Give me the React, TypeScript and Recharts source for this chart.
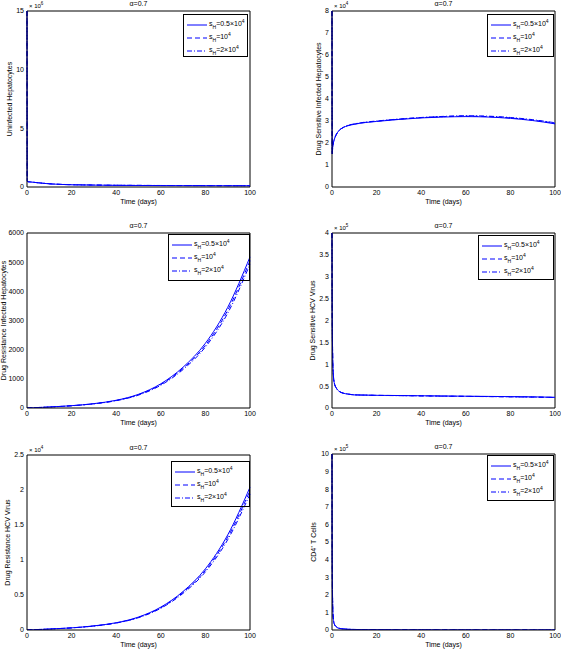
import React from 'react';
import { LineChart, Line, XAxis, YAxis, Legend, Label, ReferenceLine } from 'recharts';

// time grid (days)
const days = [0, 0.1, 0.3, 0.5, 1, 2, 3, 5, 7, 10, 15, 20, 30, 40, 50, 60, 70, 80, 90, 100];
const xTicks = [0, 20, 40, 60, 80, 100];

// uninfected hepatocytes (x10^6)
const uninfA = [15, 0.5, 0.46, 0.45, 0.44, 0.42, 0.4, 0.36, 0.32, 0.27, 0.22, 0.19, 0.16, 0.14, 0.13, 0.12, 0.115, 0.11, 0.105, 0.1];
const uninfB = [15, 0.5, 0.46, 0.45, 0.44, 0.42, 0.4, 0.36, 0.32, 0.27, 0.22, 0.19, 0.165, 0.145, 0.135, 0.125, 0.12, 0.115, 0.11, 0.105];
const uninfC = [15, 0.5, 0.46, 0.45, 0.44, 0.42, 0.4, 0.36, 0.33, 0.28, 0.23, 0.2, 0.17, 0.15, 0.14, 0.13, 0.125, 0.12, 0.115, 0.11];

// drug sensitive infected hepatocytes (x10^4)
const sensInfA = [8, 1.5, 1.8, 1.95, 2.15, 2.4, 2.55, 2.7, 2.78, 2.85, 2.93, 2.98, 3.07, 3.14, 3.18, 3.2, 3.18, 3.12, 3.02, 2.87];
const sensInfB = [8, 1.5, 1.8, 1.95, 2.15, 2.4, 2.55, 2.7, 2.79, 2.86, 2.94, 2.99, 3.08, 3.15, 3.2, 3.22, 3.2, 3.14, 3.04, 2.9];
const sensInfC = [8, 1.5, 1.8, 1.95, 2.15, 2.4, 2.55, 2.71, 2.8, 2.87, 2.95, 3.0, 3.09, 3.16, 3.21, 3.24, 3.22, 3.16, 3.06, 2.92];

// drug resistance infected hepatocytes
const resInfA = [0, 0.5, 1.5, 2.5, 5, 8, 11, 17, 23, 35, 55, 80, 150, 265, 470, 830, 1400, 2220, 3450, 5180];
const resInfB = [0, 0.5, 1.5, 2.5, 5, 8, 11, 17, 23, 34, 54, 78, 146, 258, 455, 805, 1360, 2150, 3350, 5050];
const resInfC = [0, 0.5, 1.5, 2.5, 5, 8, 11, 16, 22, 33, 52, 76, 142, 250, 442, 780, 1320, 2090, 3250, 4930];

// drug sensitive HCV virus (x10^5)
const sensVirA = [4, 2.2, 1.2, 0.85, 0.58, 0.45, 0.39, 0.34, 0.32, 0.3, 0.295, 0.29, 0.285, 0.28, 0.275, 0.27, 0.265, 0.26, 0.255, 0.245];
const sensVirB = [4, 2.2, 1.2, 0.85, 0.58, 0.45, 0.39, 0.34, 0.32, 0.3, 0.295, 0.29, 0.284, 0.278, 0.272, 0.267, 0.262, 0.257, 0.251, 0.242];
const sensVirC = [4, 2.2, 1.2, 0.85, 0.58, 0.45, 0.39, 0.34, 0.32, 0.3, 0.294, 0.288, 0.282, 0.276, 0.27, 0.265, 0.26, 0.254, 0.248, 0.24];

// drug resistance HCV virus (x10^4)
const resVirA = [0, 0, 0.0006, 0.001, 0.002, 0.003, 0.004, 0.007, 0.009, 0.014, 0.022, 0.031, 0.059, 0.104, 0.185, 0.327, 0.551, 0.874, 1.358, 2.04];
const resVirB = [0, 0, 0.0006, 0.001, 0.002, 0.003, 0.004, 0.007, 0.009, 0.014, 0.021, 0.03, 0.058, 0.101, 0.18, 0.318, 0.537, 0.852, 1.325, 1.99];
const resVirC = [0, 0, 0.0006, 0.001, 0.002, 0.003, 0.004, 0.007, 0.009, 0.013, 0.021, 0.03, 0.056, 0.099, 0.176, 0.31, 0.524, 0.83, 1.29, 1.94];

// CD4+ T cells (x10^5)
const cd4A = [10, 4, 1.5, 0.8, 0.35, 0.17, 0.1, 0.06, 0.04, 0.03, 0.02, 0.015, 0.01, 0.008, 0.007, 0.006, 0.005, 0.005, 0.004, 0.004];
const cd4B = [10, 4, 1.5, 0.8, 0.35, 0.17, 0.1, 0.06, 0.04, 0.03, 0.02, 0.015, 0.01, 0.008, 0.007, 0.006, 0.005, 0.005, 0.004, 0.004];
const cd4C = [10, 4, 1.5, 0.8, 0.36, 0.18, 0.11, 0.065, 0.045, 0.032, 0.022, 0.016, 0.011, 0.009, 0.007, 0.006, 0.005, 0.005, 0.004, 0.004];

const legendCoef = ['0.5×10', '10', '2×10'];
const legendExp = '4';
const dashes = [undefined, '5 3', '5 2 1 2'];
const blue = '#0000ff';

const panels = [
  { id: 'p1', left: 0, top: 0, width: 280, plotTop: 11, plotBottom: 187, plotLeft: 27, plotRight: 250,
    yMax: 15, yTicks: [0, 5, 10, 15], yLabel: 'Uninfected Hepatocytes', yLabelX: 10, exp: '6',
    series: [uninfA, uninfB, uninfC], legend: { x: 183, y: 14, w: 65, h: 43 } },
  { id: 'p2', left: 280, top: 0, width: 281, plotTop: 11, plotBottom: 187, plotLeft: 332, plotRight: 555,
    yMax: 8, yTicks: [0, 1, 2, 3, 4, 5, 6, 7, 8], yLabel: 'Drug Sensitive Infected Hepatocytes', yLabelX: 319, exp: '4',
    series: [sensInfA, sensInfB, sensInfC], legend: { x: 487, y: 14, w: 67, h: 43 } },
  { id: 'p3', left: 0, top: 210, width: 280, plotTop: 233, plotBottom: 408, plotLeft: 27, plotRight: 250,
    yMax: 6000, yTicks: [0, 1000, 2000, 3000, 4000, 5000, 6000], yLabel: 'Drug Resistance Infected Hepatocytes', yLabelX: 4, exp: null,
    series: [resInfA, resInfB, resInfC], legend: { x: 168, y: 234, w: 82, h: 47 } },
  { id: 'p4', left: 280, top: 210, width: 281, plotTop: 233, plotBottom: 408, plotLeft: 332, plotRight: 555,
    yMax: 4, yTicks: [0, 0.5, 1, 1.5, 2, 2.5, 3, 3.5, 4], yLabel: 'Drug Sensitive HCV Virus', yLabelX: 313, exp: '5',
    series: [sensVirA, sensVirB, sensVirC], legend: { x: 478, y: 235, w: 76, h: 45 } },
  { id: 'p5', left: 0, top: 430, width: 280, plotTop: 455, plotBottom: 630, plotLeft: 27, plotRight: 250,
    yMax: 2.5, yTicks: [0, 0.5, 1, 1.5, 2, 2.5], yLabel: 'Drug Resistance HCV Virus', yLabelX: 8, exp: '4',
    series: [resVirA, resVirB, resVirC], legend: { x: 171, y: 461, w: 79, h: 46 } },
  { id: 'p6', left: 280, top: 430, width: 281, plotTop: 454, plotBottom: 630, plotLeft: 332, plotRight: 555,
    yMax: 10, yTicks: [0, 1, 2, 3, 4, 5, 6, 7, 8, 9, 10], yLabel: 'CD4⁺ T Cells', yLabelX: 314, exp: '5',
    series: [cd4A, cd4B, cd4C], legend: { x: 487, y: 455, w: 67, h: 46 } },
];

const tickStyle = { fontSize: 7, fill: '#000' };

function LegendBox({ w, h }: { w: number; h: number }) {
  return (
    <div style={{ border: '1px solid #000', width: w, height: h, boxSizing: 'border-box', padding: '3px 0 0 3px', fontSize: 7, lineHeight: '7px' }}>
      {legendCoef.map((c, i) => (
        <div key={i} style={{ display: 'flex', alignItems: 'center', height: 13 }}>
          <svg width={20} height={6} style={{ flex: 'none' }}>
            <line x1={0} y1={3} x2={20} y2={3} stroke={blue} strokeWidth={1} strokeDasharray={dashes[i]} />
          </svg>
          <span style={{ marginLeft: 2, whiteSpace: 'nowrap' }}>
            s<sub style={{ fontSize: 5 }}>H</sub>={c}<sup style={{ fontSize: 5 }}>{legendExp}</sup>
          </span>
        </div>
      ))}
    </div>
  );
}

function Panel({ p }: { p: any }) {
  const rows = days.map((t, i) => ({ t, a: p.series[0][i], b: p.series[1][i], c: p.series[2][i] }));
  const height = p.plotBottom + 23 - p.top;
  const expLabel = (props: any) => {
    const vb = props.viewBox;
    if (!p.exp || !vb) return null;
    return (
      <text x={vb.x + 2} y={vb.y - 3} fontSize={6} fill="#000">
        × 10<tspan dy={-3} fontSize={4.5}>{p.exp}</tspan>
      </text>
    );
  };
  return (
    <div style={{ position: 'absolute', left: p.left, top: p.top }}>
      <LineChart
        width={p.width}
        height={height}
        data={rows}
        margin={{ top: p.plotTop - p.top, right: p.left + p.width - p.plotRight, bottom: 0, left: 0 }}
      >
        <XAxis dataKey="t" type="number" domain={[0, 100]} ticks={xTicks} height={23}
          tick={tickStyle} tickSize={0} tickMargin={3} stroke="#000" tickLine={false}>
          <Label value="Time (days)" position="insideBottom" offset={6} style={{ fontSize: 7, fill: '#000' }} />
        </XAxis>
        <YAxis type="number" domain={[0, p.yMax]} ticks={p.yTicks} width={p.plotLeft - p.left}
          tick={tickStyle} tickSize={0} tickMargin={3} stroke="#000" tickLine={false} allowDataOverflow>
          <Label value={p.yLabel} angle={-90} position="insideLeft" offset={p.yLabelX - p.left}
            style={{ fontSize: 7, fill: '#000', textAnchor: 'middle' }} />
        </YAxis>
        <ReferenceLine y={p.yMax} stroke="#000" strokeWidth={1} ifOverflow="visible">
          <Label value="α=0.7" position="top" offset={5} style={{ fontSize: 7, fill: '#000' }} />
          <Label content={expLabel} />
        </ReferenceLine>
        <ReferenceLine x={100} stroke="#000" strokeWidth={1} ifOverflow="visible" />
        <Legend layout="vertical" align="center" verticalAlign="middle"
          wrapperStyle={{ position: 'absolute', left: p.legend.x - p.left, top: p.legend.y - p.top, width: p.legend.w, height: p.legend.h }}
          content={() => <LegendBox w={p.legend.w} h={p.legend.h} />} />
        <Line dataKey="a" type="monotone" stroke={blue} strokeWidth={1} dot={false} isAnimationActive={false} />
        <Line dataKey="b" type="monotone" stroke={blue} strokeWidth={1} strokeDasharray="5 3" dot={false} isAnimationActive={false} />
        <Line dataKey="c" type="monotone" stroke={blue} strokeWidth={1} strokeDasharray="5 2 1 2" dot={false} isAnimationActive={false} />
      </LineChart>
    </div>
  );
}

export default function App() {
  return (
    <div style={{ position: 'absolute', left: 0, top: 0, width: 561, height: 649, overflow: 'hidden', background: '#fff', fontFamily: '"Liberation Sans", Arial, sans-serif' }}>
      {panels.map((p) => (
        <Panel key={p.id} p={p} />
      ))}
    </div>
  );
}
